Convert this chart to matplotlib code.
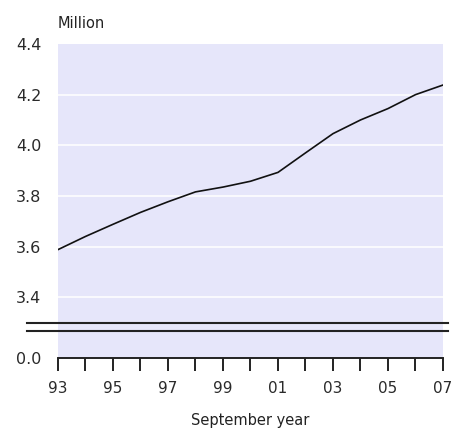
import matplotlib
matplotlib.use('Agg')
import matplotlib.pyplot as plt
import matplotlib.transforms as mtransforms

# Population, September year (million)
years = [1993, 1994, 1995, 1996, 1997, 1998, 1999, 2000, 2001, 2002, 2003, 2004, 2005, 2006, 2007]
population = [3.588, 3.640, 3.688, 3.735, 3.777, 3.816, 3.835, 3.858, 3.893, 3.970, 4.046, 4.100, 4.145, 4.200, 4.238]

tick_years = [1993, 1995, 1997, 1999, 2001, 2003, 2005, 2007]
tick_labels = ['93', '95', '97', '99', '01', '03', '05', '07']
y_ticks = [3.16, 3.4, 3.6, 3.8, 4.0, 4.2, 4.4]
y_labels = ['0.0', '3.4', '3.6', '3.8', '4.0', '4.2', '4.4']

fig = plt.figure(figsize=(4.52, 4.28), dpi=100)
ax = fig.add_axes([58/452, 70/428, 385/452, 314/428])
ax.set_facecolor('#e6e6fa')

ax.plot(years, population, color='#111111', linewidth=1.2)

ax.set_xlim(1993, 2007)
ax.set_ylim(3.16, 4.4)

# white horizontal gridlines
for v in y_ticks[1:-1]:
    ax.axhline(v, color='white', linewidth=1.1, zorder=0.5)

ax.set_yticks(y_ticks)
ax.set_yticklabels(y_labels)
ax.set_xticks(years)
ax.set_xticklabels([tick_labels[tick_years.index(y)] if y in tick_years else '' for y in years])

ax.tick_params(axis='y', length=0, pad=12, labelsize=11.5, labelcolor='#2a2a2a')
ax.tick_params(axis='x', direction='out', length=9.5, width=1.4, color='#222222',
               pad=7, labelsize=11, labelcolor='#2a2a2a')

for side in ['top', 'right', 'left']:
    ax.spines[side].set_visible(False)
ax.spines['bottom'].set_color('#222222')
ax.spines['bottom'].set_linewidth(1.4)

# axis break marks
trans = mtransforms.blended_transform_factory(ax.transAxes, ax.transData)
for yb in [3.297, 3.266]:
    ax.plot([-0.08, 1.013], [yb, yb], color='#222222', linewidth=1.5,
            transform=trans, clip_on=False)

ax.text(0, 1.04, 'Million', transform=ax.transAxes, fontsize=10.5, color='#222222',
        ha='left', va='bottom')
ax.set_xlabel('September year', fontsize=10.5, color='#222222', labelpad=12)

fig.savefig('out.png', dpi=100)
